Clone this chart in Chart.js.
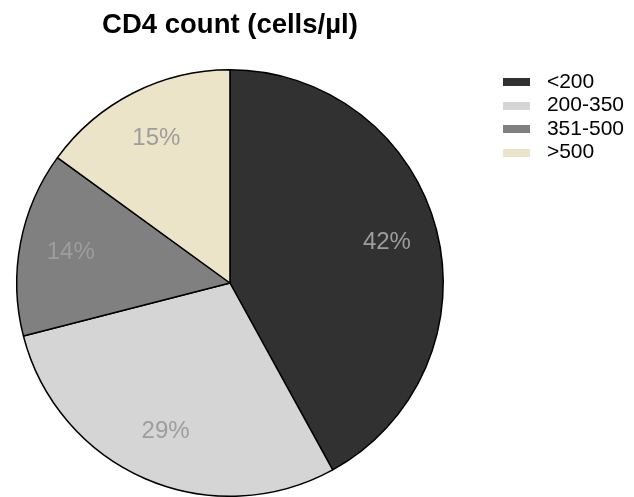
<!DOCTYPE html>
<html>
<head>
<meta charset="utf-8">
<script src="https://cdn.jsdelivr.net/npm/chart.js@4"></script>
<style>
  html, body { margin: 0; padding: 0; background: #fff; overflow: hidden; }
  /* canvas is a bit wider than the page and pulled left so the pie sits left of centre */
  #cd4Chart { display: block; margin-left: -34px; }
</style>
</head>
<body>
<canvas id="cd4Chart" width="668" height="497"></canvas>
<script>
// CD4 count categories and share of patients (%)
const categories = ['<200', '200-350', '351-500', '>500'];
const shares = [42, 29, 14, 15];
const sliceColors = ['#313131', '#d5d5d5', '#808080', '#ebe4c8'];

// small swatch used as legend marker (leaves a wider gap before the text)
function swatch(color) {
    const c = document.createElement('canvas');
    c.width = 27;
    c.height = 8;
    const g = c.getContext('2d');
    g.fillStyle = color;
    g.fillRect(0, 0, 27, 8);
    return c;
}

// percentage text inside each slice
const sliceLabels = {
    id: 'sliceLabels',
    afterDatasetsDraw(chart) {
        const ctx = chart.ctx;
        const meta = chart.getDatasetMeta(0);
        ctx.save();
        ctx.font = '24px "Liberation Sans", Arial, sans-serif';
        ctx.fillStyle = '#9d9d9d';
        ctx.textAlign = 'center';
        ctx.textBaseline = 'middle';
        meta.data.forEach((arc, i) => {
            const p = arc.getProps(['x', 'y', 'startAngle', 'endAngle', 'outerRadius'], true);
            const mid = (p.startAngle + p.endAngle) / 2;
            const r = p.outerRadius * 0.76;
            ctx.fillText(shares[i] + '%', p.x + Math.cos(mid) * r, p.y + Math.sin(mid) * r);
        });
        ctx.restore();
    }
};

new Chart(document.getElementById('cd4Chart'), {
    type: 'pie',
    data: {
        labels: categories,
        datasets: [{
            data: shares,
            backgroundColor: sliceColors,
            borderColor: '#000000',
            borderWidth: 1.5
        }]
    },
    options: {
        responsive: false,
        devicePixelRatio: 1,
        animation: false,
        layout: { padding: { left: 0, right: 0, top: 0, bottom: 0 } },
        plugins: {
            title: {
                display: true,
                text: 'CD4 count (cells/\u00b5l)',
                color: '#000',
                fullSize: false,
                font: { family: '"Liberation Sans", Arial, sans-serif', size: 27.5, weight: 'bold' },
                padding: { top: 9, bottom: 27 }
            },
            legend: {
                position: 'right',
                align: 'start',
                fullSize: false,
                labels: {
                    usePointStyle: true,
                    pointStyleWidth: 40,
                    boxHeight: 8,
                    padding: 2.5,
                    color: '#000',
                    font: { family: '"Liberation Sans", Arial, sans-serif', size: 21 },
                    generateLabels(chart) {
                        return categories.map((c, i) => ({
                            text: c,
                            fillStyle: sliceColors[i],
                            strokeStyle: sliceColors[i],
                            pointStyle: swatch(sliceColors[i]),
                            lineWidth: 0,
                            index: i
                        }));
                    }
                }
            },
            tooltip: { enabled: false }
        }
    },
    plugins: [sliceLabels]
});
</script>
</body>
</html>
